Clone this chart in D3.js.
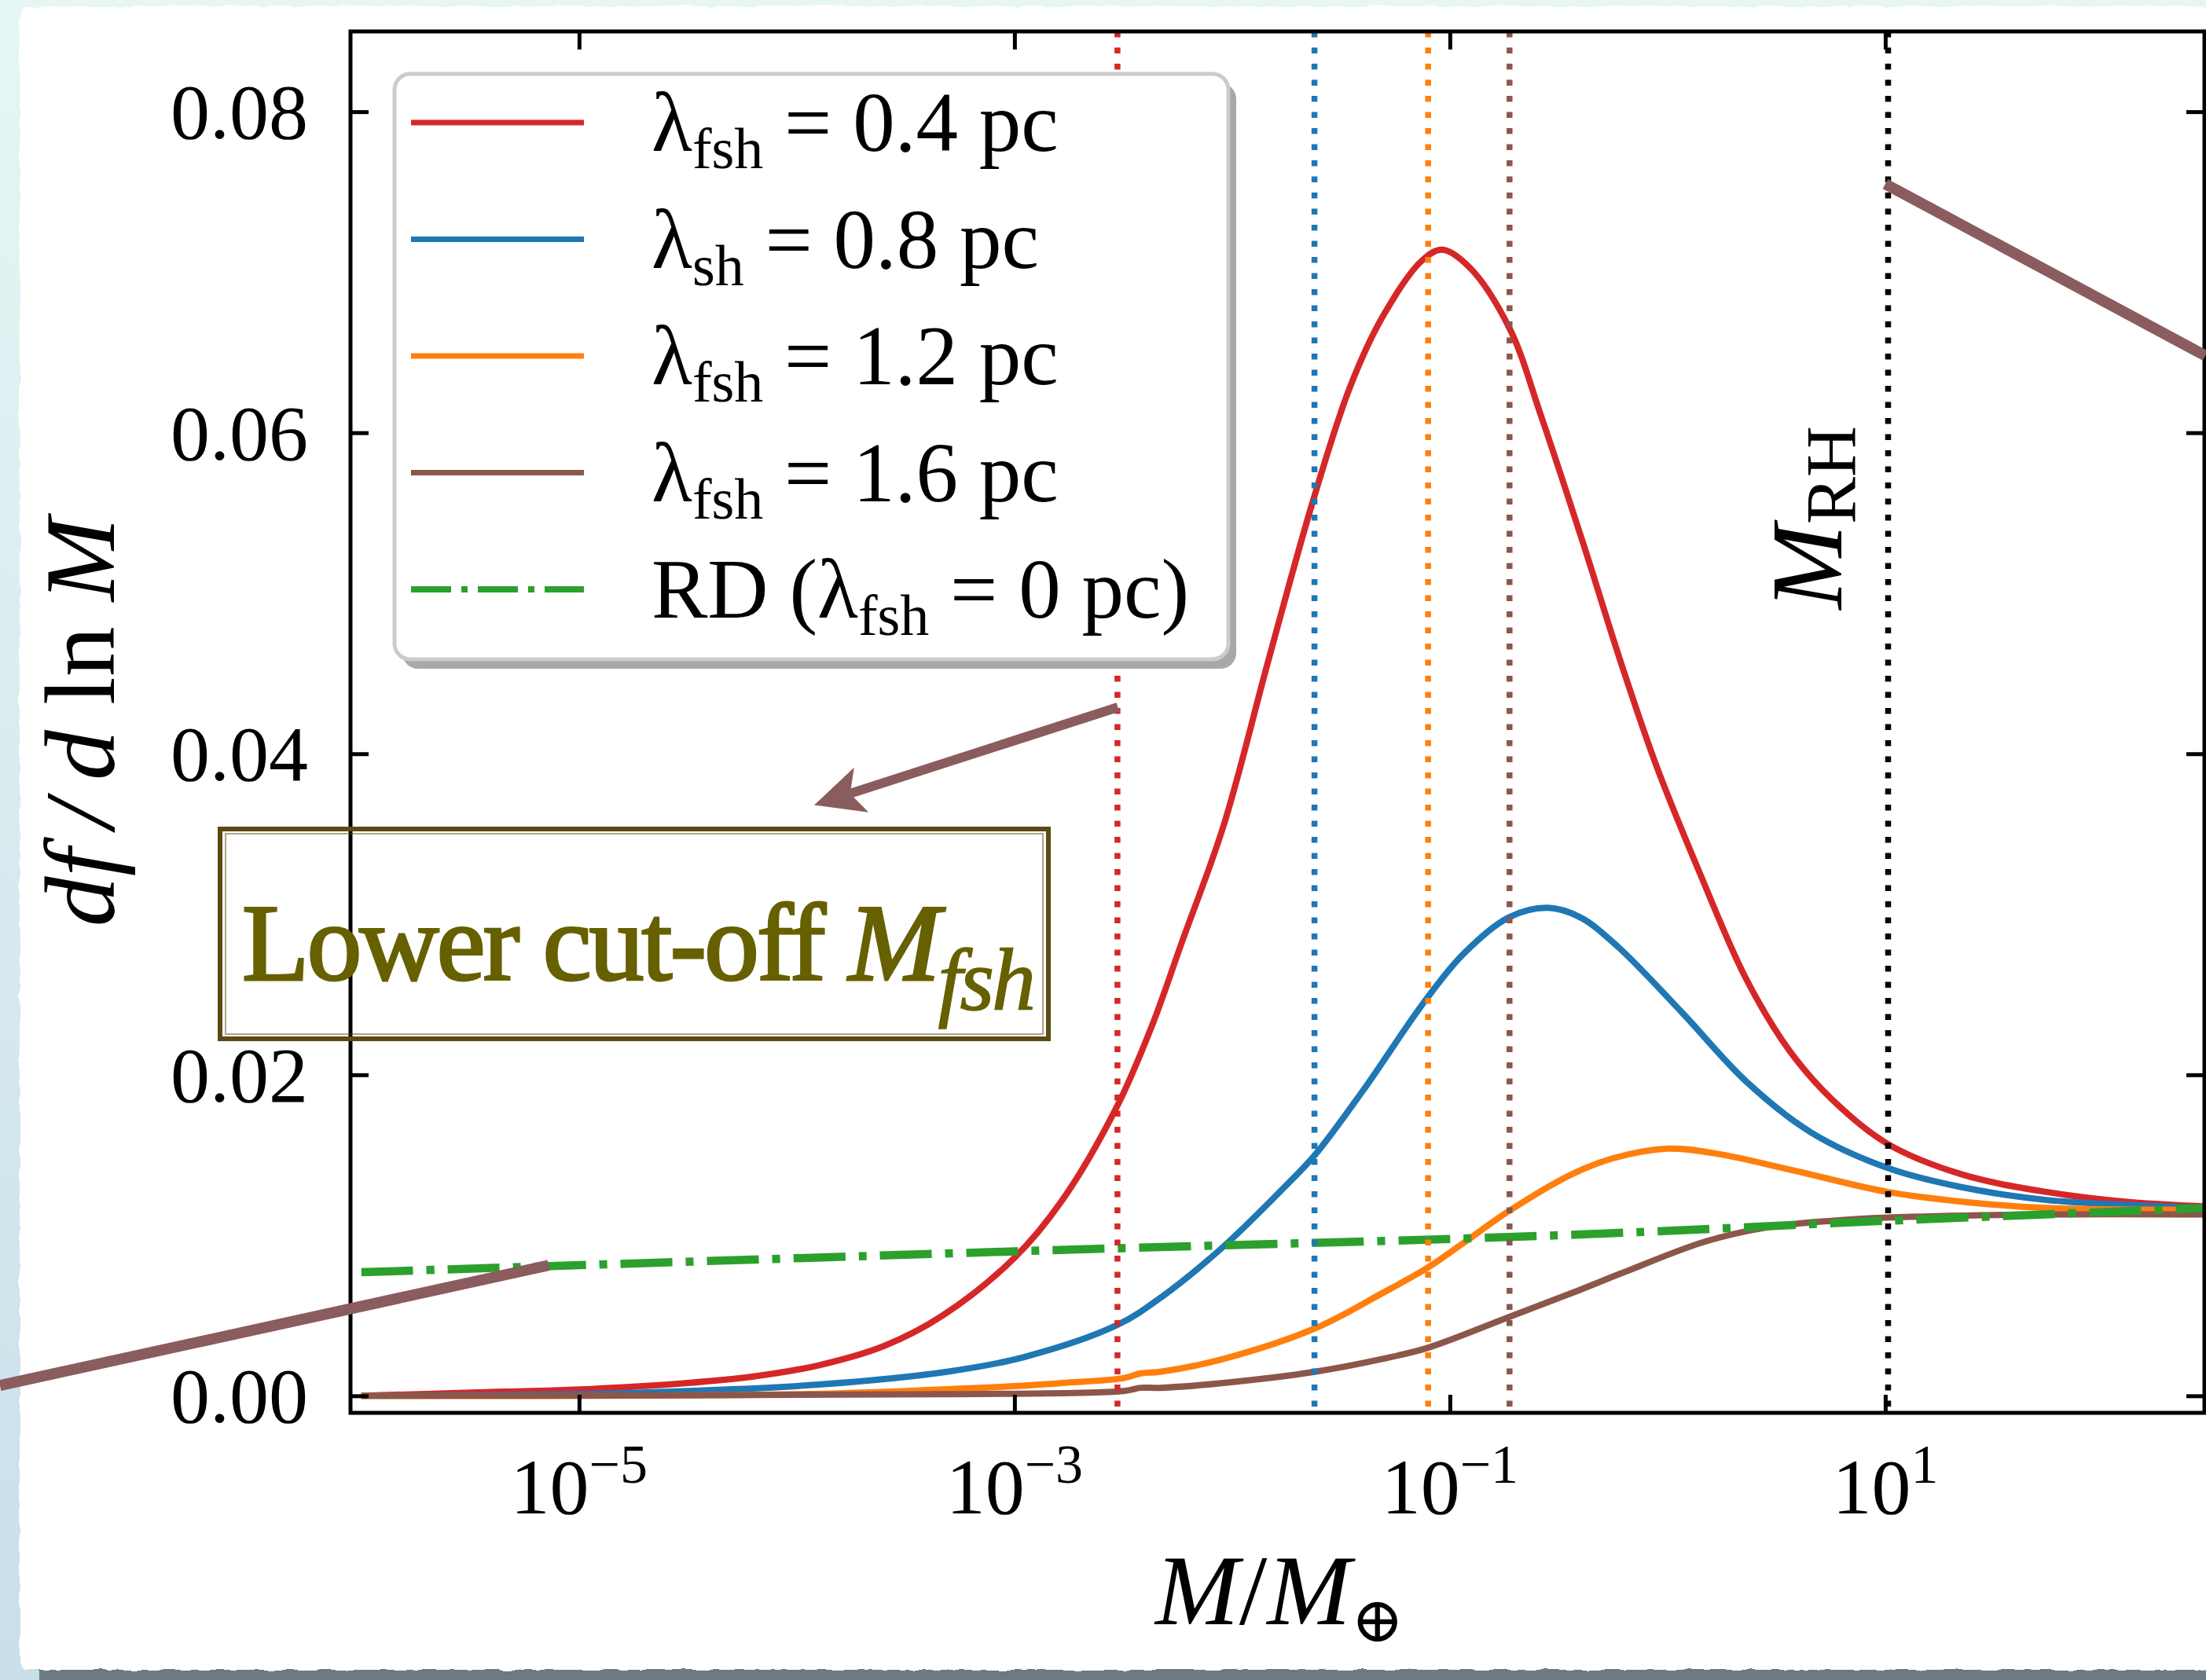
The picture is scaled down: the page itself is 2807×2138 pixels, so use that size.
<!DOCTYPE html>
<html>
<head>
<meta charset="utf-8">
<script src="https://cdn.jsdelivr.net/npm/d3@7"></script>
<style>
  html, body { margin: 0; padding: 0; background: #e3f3f4; }
  svg { display: block; }
  text { font-family: "Liberation Serif", "DejaVu Serif", serif; fill: #000; white-space: pre; }
</style>
</head>
<body>
<svg id="chart" width="2807" height="2138"></svg>
<script>
// values: [log10(M / M_earth), df/dlnM]
const fsh04 = [
  [-6.0, 0.0000], [-5.5, 0.0002], [-5.0, 0.0004], [-4.5, 0.0008], [-4.2, 0.0012],
  [-3.9, 0.0019], [-3.6, 0.0031], [-3.33, 0.0050], [-3.0, 0.0086], [-2.78, 0.0122],
  [-2.53, 0.0180], [-2.37, 0.0230], [-2.23, 0.0283], [-2.04, 0.0355], [-1.83, 0.0460],
  [-1.63, 0.0557], [-1.46, 0.0628], [-1.31, 0.0672], [-1.13, 0.0707], [-1.035, 0.0714],
  [-0.91, 0.0703], [-0.726, 0.0665], [-0.58, 0.0610], [-0.39, 0.0532], [-0.21, 0.0455],
  [-0.05, 0.0392], [0.15, 0.0325], [0.36, 0.0260], [0.56, 0.0215], [0.76, 0.0184],
  [1.01, 0.0157], [1.35, 0.0138], [1.74, 0.0127], [2.1, 0.0121], [2.47, 0.0118]
];
const sh08 = [
  [-6.0, 0.0000], [-5.0, 0.0001], [-4.5, 0.0003], [-3.9, 0.0007], [-3.31, 0.0015],
  [-2.96, 0.0024], [-2.53, 0.0044], [-2.32, 0.0062], [-2.04, 0.0093], [-1.76, 0.0130],
  [-1.62, 0.0150], [-1.40, 0.0190], [-1.12, 0.0245], [-0.94, 0.0275], [-0.73, 0.0298],
  [-0.55, 0.0304], [-0.40, 0.0298], [-0.23, 0.0280], [0.065, 0.0239], [0.36, 0.0196],
  [0.66, 0.0164], [1.01, 0.0142], [1.35, 0.0130], [1.74, 0.0122], [2.1, 0.0119], [2.47, 0.0117]
];
const fsh12 = [
  [-6.0, 0.0000], [-4.0, 0.0001], [-3.33, 0.0004], [-3.0, 0.0006], [-2.78, 0.0008],
  [-2.5, 0.0011], [-2.42, 0.0014], [-2.33, 0.0015], [-2.04, 0.0023], [-1.62, 0.0042],
  [-1.31, 0.0064], [-1.10, 0.0080], [-0.94, 0.0095], [-0.73, 0.0115], [-0.44, 0.0138],
  [-0.25, 0.0148], [0.0, 0.0154], [0.22, 0.0151], [0.56, 0.0141], [1.01, 0.0127],
  [1.35, 0.0121], [1.74, 0.0117], [2.47, 0.0116]
];
const fsh16 = [
  [-6.0, 0.0000], [-3.33, 0.0001], [-2.5, 0.0003], [-2.42, 0.0005], [-2.33, 0.0005],
  [-2.04, 0.0008], [-1.62, 0.0015], [-1.31, 0.0023], [-1.10, 0.0030], [-0.73, 0.0049],
  [-0.44, 0.0064], [-0.2, 0.0077], [0.17, 0.0096], [0.46, 0.0105], [0.75, 0.0109],
  [1.01, 0.0111], [1.74, 0.0113], [2.47, 0.0113]
];
const rd = [[-6.0, 0.0077], [-3.0, 0.0090], [-0.5, 0.0100], [1.0, 0.0109], [2.47, 0.0117]];

const series = [
  { data: fsh04, color: '#d62728', sub: 'fsh', lam: '0.4' },
  { data: sh08, color: '#1f77b4', sub: 'sh', lam: '0.8' },
  { data: fsh12, color: '#ff7f0e', sub: 'fsh', lam: '1.2' },
  { data: fsh16, color: '#8c564b', sub: 'fsh', lam: '1.6' },
  { data: rd, color: '#2ca02c', sub: 'fsh', lam: '0', rd: true }
];

// cut-off masses (vertical dotted lines), log10
const cutoffs = [
  { logM: -2.527, color: '#d62728' },
  { logM: -1.622, color: '#1f77b4' },
  { logM: -1.100, color: '#ff7f0e' },
  { logM: -0.726, color: '#8c564b' },
  { logM: 1.013, color: '#000000' }
];

const xTicks = [-5, -3, -1, 1];
const yTicks = [0, 0.02, 0.04, 0.06, 0.08];
const yTickLabels = ['0.00', '0.02', '0.04', '0.06', '0.08'];

// hand-drawn annotation strokes, in data units
const annotLines = [
  [[-7.66, 0.00064], [-5.14, 0.00813]],
  [[1.0, 0.0755], [2.47, 0.0648]]
];
const annotArrow = [[-2.525, 0.0429], [-3.92, 0.0368]];

const W = 2807, H = 2138;
const plot = { left: 446, right: 2805, top: 40, bottom: 1798 };

const x = d3.scaleLog().domain([10 ** -6.05, 10 ** 2.466]).range([plot.left, plot.right]);
const y = d3.scaleLinear().domain([-0.00106, 0.085]).range([plot.bottom, plot.top]);

const svg = d3.select('#chart');
const defs = svg.append('defs');

const bg = defs.append('linearGradient').attr('id', 'bg').attr('x1', 0).attr('y1', 0).attr('x2', 0).attr('y2', 1);
bg.append('stop').attr('offset', '0%').attr('stop-color', '#e6f6f5');
bg.append('stop').attr('offset', '100%').attr('stop-color', '#c9dfe9');

const rough = defs.append('filter').attr('id', 'rough')
  .attr('x', '-2%').attr('y', '-2%').attr('width', '104%').attr('height', '104%');
rough.append('feTurbulence').attr('type', 'fractalNoise').attr('baseFrequency', 0.05)
  .attr('numOctaves', 2).attr('seed', 3).attr('result', 'noise');
rough.append('feDisplacementMap').attr('in', 'SourceGraphic').attr('in2', 'noise')
  .attr('scale', 6).attr('xChannelSelector', 'R').attr('yChannelSelector', 'G');

defs.append('clipPath').attr('id', 'plotclip').append('rect')
  .attr('x', plot.left).attr('y', plot.top)
  .attr('width', plot.right - plot.left).attr('height', plot.bottom - plot.top);

// background and paper
svg.append('rect').attr('width', W).attr('height', H).attr('fill', 'url(#bg)');
svg.append('rect').attr('x', 50).attr('y', 2121).attr('width', W).attr('height', 30)
  .attr('fill', '#6e7a83').attr('filter', 'url(#rough)');
svg.append('rect').attr('x', 25).attr('y', 8).attr('width', W + 20).attr('height', 2117)
  .attr('rx', 12).attr('fill', '#ffffff').attr('filter', 'url(#rough)');

const px = d => x(10 ** d[0]);
const py = d => y(d[1]);
const line = d3.line().x(px).y(py).curve(d3.curveCatmullRom.alpha(0.5));

// curves
const curves = svg.append('g').attr('clip-path', 'url(#plotclip)');
series.forEach(s => {
  curves.append('path')
    .attr('d', line(s.data))
    .attr('fill', 'none')
    .attr('stroke', s.color)
    .attr('stroke-width', s.rd ? 10.5 : 8)
    .attr('stroke-dasharray', s.rd ? '66,17,10,17' : null)
    .attr('stroke-linejoin', 'round');
});

// cut-off lines
curves.selectAll('line.cut')
  .data(cutoffs)
  .join('line')
  .attr('class', 'cut')
  .attr('x1', d => x(10 ** d.logM)).attr('x2', d => x(10 ** d.logM))
  .attr('y1', plot.top).attr('y2', plot.bottom)
  .attr('stroke', d => d.color)
  .attr('stroke-width', 7.5)
  .attr('stroke-dasharray', '7.5,13');

// ticks on all four sides, pointing inward
const tickVals = xTicks.map(e => 10 ** e);
const styleAxis = g => {
  g.select('.domain').remove();
  g.selectAll('line').attr('stroke', '#000').attr('stroke-width', 5);
};
svg.append('g').attr('transform', `translate(0,${plot.bottom})`)
  .call(d3.axisBottom(x).tickValues(tickVals).tickSize(-23).tickFormat('')).call(styleAxis);
svg.append('g').attr('transform', `translate(0,${plot.top})`)
  .call(d3.axisTop(x).tickValues(tickVals).tickSize(-23).tickFormat('')).call(styleAxis);
svg.append('g').attr('transform', `translate(${plot.left},0)`)
  .call(d3.axisLeft(y).tickValues(yTicks).tickSize(-23).tickFormat('')).call(styleAxis);
svg.append('g').attr('transform', `translate(${plot.right},0)`)
  .call(d3.axisRight(y).tickValues(yTicks).tickSize(-23).tickFormat('')).call(styleAxis);

svg.append('rect')
  .attr('x', plot.left).attr('y', plot.top)
  .attr('width', plot.right - plot.left).attr('height', plot.bottom - plot.top)
  .attr('fill', 'none').attr('stroke', '#000').attr('stroke-width', 5);

// tick labels
xTicks.forEach(e => {
  const t = svg.append('text')
    .attr('x', x(10 ** e)).attr('y', 1926)
    .attr('text-anchor', 'middle').attr('font-size', 100);
  t.append('tspan').text('10');
  t.append('tspan').attr('font-size', 70).attr('dy', -39).text(e < 0 ? '\u2212' + (-e) : String(e));
});
yTicks.forEach((v, i) => {
  svg.append('text')
    .attr('x', 392).attr('y', y(v) + 34)
    .attr('text-anchor', 'end').attr('font-size', 100)
    .text(yTickLabels[i]);
});

// axis labels
const xl = svg.append('text').attr('x', 1628).attr('y', 2067)
  .attr('text-anchor', 'middle').attr('font-size', 128);
xl.append('tspan').attr('font-style', 'italic').text('M');
xl.append('tspan').text('/');
xl.append('tspan').attr('font-style', 'italic').text('M');
xl.append('tspan').attr('font-size', 80).attr('dy', 22).text('\u2295');

const yl = svg.append('text').attr('transform', 'translate(145,919) rotate(-90)')
  .attr('text-anchor', 'middle').attr('font-size', 128);
yl.append('tspan').attr('font-style', 'italic').text('df\u2009/\u2009d');
yl.append('tspan').text(' ln ');
yl.append('tspan').attr('font-style', 'italic').text('M');

// M_RH label
const mrh = cutoffs[cutoffs.length - 1];
const rh = svg.append('text')
  .attr('transform', `translate(${x(10 ** mrh.logM) - 60},${y(0.049)}) rotate(-90)`)
  .attr('font-size', 130);
rh.append('tspan').attr('font-style', 'italic').text('M');
rh.append('tspan').attr('font-size', 90).attr('dy', 18).text('RH');

// legend
const leg = svg.append('g');
leg.append('rect').attr('x', 512).attr('y', 106).attr('width', 1061).attr('height', 745)
  .attr('rx', 20).attr('fill', '#a8a8a8');
leg.append('rect').attr('x', 502).attr('y', 94).attr('width', 1061).attr('height', 745)
  .attr('rx', 20).attr('fill', '#fff').attr('stroke', '#cccccc').attr('stroke-width', 5);
series.forEach((s, i) => {
  const ly = 156 + i * 148.5;
  leg.append('line').attr('x1', 523).attr('x2', 743).attr('y1', ly).attr('y2', ly)
    .attr('stroke', s.color).attr('stroke-width', s.rd ? 8 : 7)
    .attr('stroke-dasharray', s.rd ? '51,13,8,13' : null);
  const t = leg.append('text').attr('x', 829).attr('y', ly + 36).attr('font-size', 107);
  t.append('tspan').text(s.rd ? 'RD (\u03bb' : '\u03bb');
  t.append('tspan').attr('font-size', 74).attr('dy', 22).text(s.sub);
  t.append('tspan').attr('dy', -22).text(` = ${s.lam} pc` + (s.rd ? ')' : ''));
});

// annotation strokes
const annColor = '#8b5c5e';
annotLines.forEach(seg => {
  svg.append('line')
    .attr('x1', px(seg[0])).attr('y1', py(seg[0]))
    .attr('x2', px(seg[1])).attr('y2', py(seg[1]))
    .attr('stroke', annColor).attr('stroke-width', 14);
});
{
  const [a, b] = annotArrow;
  const x0 = px(a), y0 = py(a), x1 = px(b), y1 = py(b);
  const len = Math.hypot(x1 - x0, y1 - y0);
  const ux = (x1 - x0) / len, uy = (y1 - y0) / len;
  const nx = -uy, ny = ux;
  const hl = 63, hw = 30;
  const bx = x1 - ux * hl, by = y1 - uy * hl;
  const nxp = x1 - ux * 48, nyp = y1 - uy * 48;
  svg.append('line').attr('x1', x0).attr('y1', y0).attr('x2', nxp).attr('y2', nyp)
    .attr('stroke', annColor).attr('stroke-width', 12);
  svg.append('path')
    .attr('d', `M${x1},${y1}L${bx + nx * hw},${by + ny * hw}L${nxp},${nyp}L${bx - nx * hw},${by - ny * hw}Z`)
    .attr('fill', annColor);
}

// "Lower cut-off" box
const boxColor = '#5b4b12';
svg.append('rect').attr('x', 280).attr('y', 1055).attr('width', 1054).attr('height', 267)
  .attr('fill', 'none').attr('stroke', boxColor).attr('stroke-width', 6);
svg.append('rect').attr('x', 287).attr('y', 1061).attr('width', 1040).attr('height', 255)
  .attr('fill', 'none').attr('stroke', boxColor).attr('stroke-width', 2).attr('opacity', 0.5);
const lc = svg.append('text').attr('x', 308).attr('y', 1247)
  .attr('font-size', 140).attr('letter-spacing', -3)
  .style('fill', '#666000').style('stroke', '#666000').style('stroke-width', 3);
lc.append('tspan').text('Lower cut-off ');
lc.append('tspan').attr('font-style', 'italic').text('M');
lc.append('tspan').attr('font-style', 'italic').style('stroke-width', 1.5)
  .attr('font-size', 112).attr('dy', 38).text('fsh');
</script>
</body>
</html>
